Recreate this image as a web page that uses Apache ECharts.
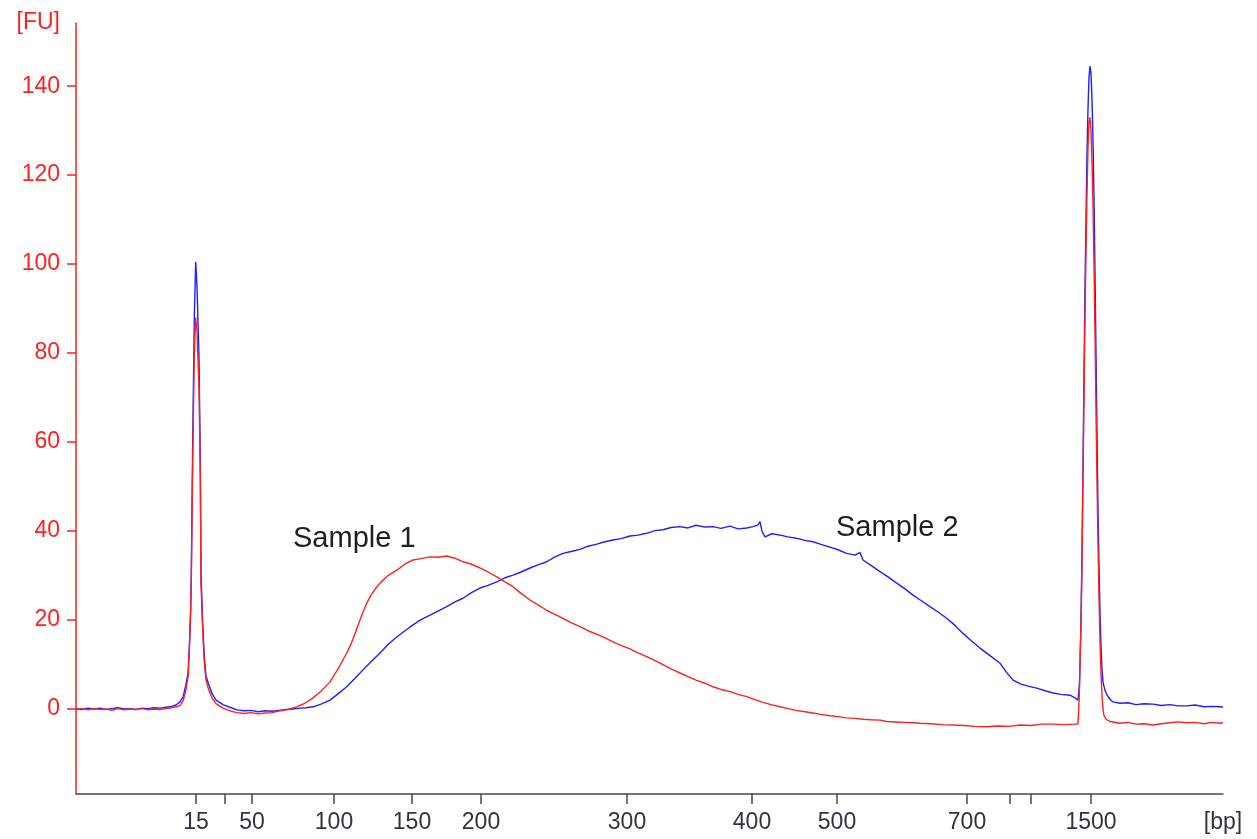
<!DOCTYPE html>
<html>
<head>
<meta charset="utf-8">
<title>Electropherogram</title>
<script src="https://cdn.jsdelivr.net/npm/echarts@6/dist/echarts.min.js"></script>
<style>
  html, body { margin: 0; padding: 0; background: #ffffff; }
  #chart { width: 1257px; height: 839px; }
</style>
</head>
<body>
<div id="chart"></div>
<script>
// Ladder: migration time (s) of each fragment and its size (bp)
const ladderTime = [32.0, 34.9, 37.6, 45.8, 53.6, 60.5, 75.1, 87.6, 96.1, 109.1, 113.4, 115.5, 121.5];
const ladderBp   = [15, 25, 50, 100, 150, 200, 300, 400, 500, 700, 850, 1000, 1500];
const labeledBp  = [15, 50, 100, 150, 200, 300, 400, 500, 700, 1500];

const timeRange = [20, 134.7];
const fuRange   = [-19.1, 154.2];
const fuTicks   = [0, 20, 40, 60, 80, 100, 120, 140];
const xUnit = '[bp]';
const yUnit = '[FU]';

// Sample 2 (blue trace)
const sample2Time = [
  20.0, 20.6, 21.2, 21.8, 22.4, 23.0, 23.6, 24.2, 24.8, 25.4, 26.0, 26.6, 27.2, 27.8, 28.4, 29.0, 29.6, 30.0,
  30.4, 30.7, 30.95, 31.2, 31.35, 31.47, 31.53, 31.67, 31.83, 31.97, 32.1, 32.3, 32.43, 32.5, 32.67, 32.83,
  33.0, 33.23, 33.6, 34.0, 34.7, 35.4, 36.1, 36.8, 37.5, 38.2, 38.9, 39.6, 40.3, 41.0, 41.7, 42.4, 43.0, 43.7,
  44.5, 45.4, 46.2, 47.07, 47.9, 48.7, 49.5, 50.4, 51.2, 52.07, 52.9, 53.7, 54.5, 55.4, 56.2, 57.07, 57.9,
  58.7, 59.5, 60.4, 61.2, 62.07, 62.9, 63.7, 64.5, 65.4, 66.2, 67.07, 67.9, 68.7, 69.5, 70.4, 71.2, 72.0,
  72.9, 73.7, 74.5, 75.4, 76.2, 77.07, 77.9, 78.7, 79.5, 80.4, 81.2, 82.0, 82.9, 83.7, 84.5, 85.4, 86.2,
  87.07, 87.7, 88.2, 88.4, 88.6, 88.9, 89.6, 90.4, 91.2, 92.0, 92.9, 93.7, 94.5, 95.4, 96.2, 97.07, 97.9,
  98.4, 98.7, 99.5, 100.4, 101.2, 102.07, 102.9, 103.7, 104.5, 105.4, 106.2, 107.07, 107.9, 108.7, 109.5,
  110.4, 111.4, 112.4, 113.0, 113.7, 114.5, 115.3, 116.07, 116.9, 117.7, 118.5, 119.4, 119.9, 120.2,
  120.33, 120.4, 120.5, 120.6, 120.7, 120.8, 120.9, 121.0, 121.1, 121.2, 121.3, 121.4, 121.5, 121.6, 121.7,
  121.8, 121.9, 122.0, 122.1, 122.2, 122.3, 122.4, 122.5, 122.6, 122.7, 122.9, 123.1, 123.4, 123.7, 124.4,
  125.2, 126.0, 126.8, 127.7, 128.5, 129.4, 130.2, 131.1, 131.9, 132.8, 133.6, 134.4, 134.7
];
const sample2Fu = [
  0.1, -0.1, 0.2, 0.0, 0.2, -0.1, 0.1, 0.3, 0.0, 0.1, -0.1, 0.2, 0.1, 0.3, 0.2, 0.4, 0.6, 0.9,
  1.6, 2.7, 5.0, 8.0, 15, 23, 30.5, 60, 88, 100.5, 95, 79, 56.7, 30.5, 19.3, 11.8,
  7.5, 5.8, 3.5, 2.0, 1.0, 0.4, -0.2, -0.4, -0.3, -0.6, -0.4, -0.5, -0.3, -0.1, 0.0, 0.2, 0.3, 0.5,
  1.1, 2.0, 3.4, 5.0, 6.9, 8.8, 10.6, 12.6, 14.5, 16.2, 17.6, 18.9, 20.1, 21.1, 22.0, 23.0, 24.1,
  24.9, 26.1, 27.2, 27.8, 28.6, 29.5, 30.1, 30.8, 31.7, 32.4, 33.1, 34.2, 35.0, 35.4, 35.9, 36.6, 37.0,
  37.6, 38.0, 38.3, 38.9, 39.1, 39.5, 40.1, 40.3, 40.8, 41.0, 40.7, 41.3, 40.9, 41.0, 40.6, 41.1, 40.5,
  40.7, 41.0, 41.4, 42.1, 40.0, 38.7, 39.4, 39.1, 38.7, 38.4, 37.9, 37.6, 37.0, 36.4, 35.8, 35.0, 34.6,
  35.2, 33.5, 32.3, 30.9, 29.7, 28.3, 27.0, 25.6, 24.4, 23.0, 21.8, 20.4, 18.8, 17.0, 15.4,
  13.7, 12.0, 10.3, 8.4, 6.5, 5.6, 5.1, 4.7, 4.1, 3.6, 3.3, 3.1, 2.5, 2.0,
  5, 10, 20, 35, 55, 75, 95, 110, 125, 135, 142, 144.5, 143, 137, 128,
  115, 98, 80, 62, 45, 32, 22, 14, 9, 6, 4.2, 3.2, 2.2, 1.6, 1.3,
  1.4, 1.0, 1.2, 1.1, 0.8, 1.0, 0.7, 0.7, 0.9, 0.5, 0.6, 0.5, 0.4
];

// Sample 1 (red trace)
const sample1Time = [
  20.0, 20.6, 21.2, 21.8, 22.4, 23.0, 23.6, 24.2, 24.8, 25.4, 26.0, 26.6, 27.2, 27.8, 28.4, 29.0, 29.6, 30.0,
  30.4, 30.7, 30.95, 31.23, 31.35, 31.47, 31.53, 31.67, 31.83, 31.97, 32.1, 32.3, 32.43, 32.5, 32.67, 32.83,
  33.0, 33.23, 33.6, 34.0, 34.7, 35.4, 36.1, 36.8, 37.5, 38.2, 38.9, 39.6, 40.4, 41.2, 42.07, 42.9, 43.7,
  44.5, 45.4, 46.2, 47.07, 47.5, 47.9, 48.3, 48.7, 49.1, 49.5, 50.0, 50.4, 51.2, 52.07, 52.9, 53.7, 54.5,
  55.4, 56.2, 57.07, 57.9,
  58.7, 59.5, 60.4, 61.2, 62.07, 62.9, 63.7, 64.5, 65.4, 66.2, 67.07, 67.9, 68.7, 69.5, 70.4, 71.2, 72.0,
  72.9, 73.7, 74.5, 75.4, 76.2, 77.07, 77.9, 78.7, 79.5, 80.4, 81.2, 82.0, 82.9, 83.7, 84.5, 85.4, 86.2,
  87.07, 87.9, 88.7, 89.5, 90.4, 91.2, 92.0, 92.9, 93.7, 94.5, 95.4, 96.2, 97.07, 97.9, 98.7, 99.5, 100.4,
  101.07, 102.0, 102.9, 103.7, 104.4, 105.5, 106.6, 107.7, 108.8, 109.9, 111.07, 112.2, 113.3, 114.4,
  115.5, 116.6, 117.7, 118.8, 119.9, 120.2,
  120.33, 120.4, 120.5, 120.6, 120.7, 120.8, 120.9, 121.0, 121.1, 121.2, 121.3, 121.4, 121.5, 121.6, 121.7,
  121.8, 121.9, 122.0, 122.1, 122.2, 122.3, 122.4, 122.5, 122.6, 122.7, 122.8, 123.0, 123.4, 124.4,
  125.2, 126.0, 126.8, 127.7, 128.5, 129.4, 130.2, 131.1, 131.9, 132.8, 133.6, 134.4, 134.7
];
const sample1Fu = [
  -0.1, 0.1, -0.2, 0.1, -0.1, 0.0, -0.3, 0.1, -0.2, 0.0, -0.1, 0.1, -0.2, 0.0, -0.1, 0.1, 0.3, 0.5,
  0.8, 1.8, 3.8, 7.5, 14, 22, 29, 55, 80, 88, 85, 72, 52, 28, 17.5, 10.5,
  6.5, 4.6, 2.5, 1.2, 0.2, -0.4, -0.8, -1.0, -0.8, -1.1, -0.9, -0.8, -0.4, -0.1, 0.5, 1.3, 2.5,
  4.0, 6.1, 9.0, 12.6, 14.6, 16.9, 19.4, 21.8, 23.9, 25.6, 27.2, 28.3, 30.0, 31.2, 32.6, 33.5, 33.8,
  34.2, 34.1, 34.4, 33.9,
  33.1, 32.6, 31.7, 30.8, 29.7, 28.6, 27.5, 26.0, 24.5, 23.4, 22.2, 21.3, 20.4, 19.4, 18.5, 17.6, 16.9,
  16.0, 15.1, 14.3, 13.5, 12.6, 11.8, 10.9, 10.0, 9.0, 8.1, 7.3, 6.5, 5.8, 5.0, 4.4, 3.9, 3.3,
  2.8, 2.1, 1.5, 1.0, 0.5, 0.1, -0.3, -0.6, -0.9, -1.2, -1.5, -1.7, -2.0, -2.1, -2.3, -2.4, -2.5,
  -2.8, -2.9, -3.0, -3.1, -3.2, -3.3, -3.5, -3.6, -3.7, -3.9, -4.0, -3.8, -3.9, -3.6,
  -3.7, -3.4, -3.4, -3.5, -3.4, -3.3,
  3, 10, 19, 33, 52, 70, 88, 103, 116, 126, 132, 133, 130, 123, 113,
  100, 84, 67, 51, 37, 25, 15, 8, 3, 0, -1.5, -2.3, -2.8, -3.2,
  -3.0, -3.4, -3.3, -3.6, -3.3, -3.1, -2.9, -3.1, -3.0, -3.3, -3.0, -3.2, -3.1
];

const zip = (xs, ys) => xs.map((x, i) => [x, ys[i]]);

const FONT = '"Liberation Sans", Arial, sans-serif';
const RED = '#ff2020';
const BLUE = '#1f1fff';
const AXIS_DARK = '#4a4a4a';

// Labelled ladder positions, plus the unit label placed at the axis end
const xLabelValues = labeledBp.map(bp => ladderTime[ladderBp.indexOf(bp)]).concat([timeRange[1]]);
const yLabelValues = fuTicks.concat([fuRange[1]]);

const chart = echarts.init(document.getElementById('chart'), null, { renderer: 'canvas' });

chart.setOption({
  animation: false,
  backgroundColor: '#ffffff',
  grid: { left: 76, right: 34, top: 23, bottom: 45, containLabel: false, outerBoundsMode: 'none' },
  xAxis: {
    type: 'value',
    min: timeRange[0],
    max: timeRange[1],
    axisLine: { show: true, onZero: false, lineStyle: { color: AXIS_DARK, width: 1.5 } },
    axisTick: {
      show: true, inside: false, length: 10,
      customValues: ladderTime,
      lineStyle: { color: AXIS_DARK, width: 1.5 }
    },
    axisLabel: {
      customValues: xLabelValues,
      margin: 17,
      color: '#2e3540',
      fontFamily: FONT,
      fontSize: 23,
      formatter: function (v) {
        if (v === timeRange[1]) return xUnit;
        const i = ladderTime.indexOf(v);
        return i >= 0 ? String(ladderBp[i]) : '';
      }
    },
    splitLine: { show: false }
  },
  yAxis: {
    type: 'value',
    min: fuRange[0],
    max: fuRange[1],
    axisLine: { show: true, onZero: false, lineStyle: { color: RED, width: 1.5 } },
    axisTick: {
      show: true, inside: false, length: 9,
      customValues: fuTicks,
      lineStyle: { color: RED, width: 1.5 }
    },
    axisLabel: {
      customValues: yLabelValues,
      margin: 16,
      color: RED,
      fontFamily: FONT,
      fontSize: 23,
      formatter: function (v) {
        return v === fuRange[1] ? yUnit : String(v);
      }
    },
    splitLine: { show: false }
  },
  series: [
    {
      name: 'Sample 2',
      type: 'line',
      data: zip(sample2Time, sample2Fu),
      showSymbol: false,
      smooth: false,
      lineStyle: { color: BLUE, width: 1.4 },
      itemStyle: { color: BLUE },
      z: 2
    },
    {
      name: 'Sample 1',
      type: 'line',
      data: zip(sample1Time, sample1Fu),
      showSymbol: false,
      smooth: false,
      lineStyle: { color: RED, width: 1.4 },
      itemStyle: { color: RED },
      z: 3
    }
  ],
  graphic: [
    {
      type: 'text', left: 293, top: 524, z: 10,
      style: { text: 'Sample 1', font: '29px ' + FONT, fill: '#1e1e1e' }
    },
    {
      type: 'text', left: 836, top: 513, z: 10,
      style: { text: 'Sample 2', font: '29px ' + FONT, fill: '#1e1e1e' }
    }
  ]
});
</script>
</body>
</html>
